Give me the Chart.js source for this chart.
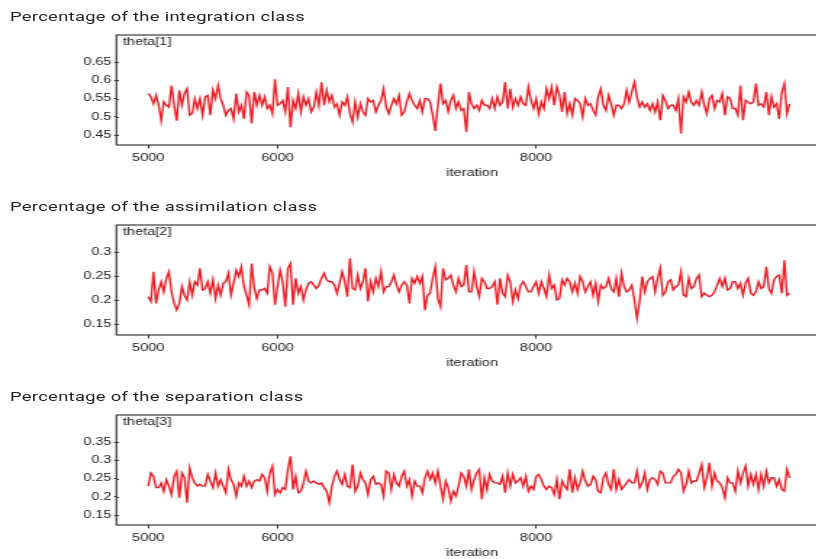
<!DOCTYPE html>
<html>
<head>
<meta charset="utf-8">
<script src="https://cdn.jsdelivr.net/npm/chart.js@4.4.1/dist/chart.umd.min.js"></script>
<style>
  html, body { margin: 0; padding: 0; width: 816px; height: 559px; overflow: hidden; background: #fff; }
  /* the whole sheet is drawn narrow and widened horizontally */
  #page { position: absolute; left: 0; top: 0; width: 563px; height: 559px; transform: scaleX(1.45); transform-origin: 0 0; }
  .ttl { position: absolute; left: 6.9px; font-family: Roboto, sans-serif; font-size: 12.7px; letter-spacing: 0.2px; color: #262626; white-space: nowrap; line-height: 16px; }
  .pnl { position: absolute; left: 0; width: 571px; height: 160px; }
  canvas { display: block; }
</style>
</head>
<body>
<div id="page">
  <div class="ttl" style="top:8.5px">Percentage of the integration class</div>
  <div class="pnl" style="top:25px"><canvas id="c1" width="571" height="160"></canvas></div>
  <div class="ttl" style="top:198.5px">Percentage of the assimilation class</div>
  <div class="pnl" style="top:215px"><canvas id="c2" width="571" height="160"></canvas></div>
  <div class="ttl" style="top:388.5px">Percentage of the separation class</div>
  <div class="pnl" style="top:405px"><canvas id="c3" width="571" height="160"></canvas></div>
</div>
<script>
// MCMC draws kept after burn-in, thinned every 20 iterations
const iterStart = 5000;
const iterStep = 20;

const theta1 = [
  0.564, 0.555, 0.536, 0.559, 0.532, 0.49, 0.541, 0.532, 0.527, 0.586,
  0.532, 0.49, 0.573, 0.532, 0.564, 0.577, 0.505, 0.51, 0.55, 0.523,
  0.55, 0.505, 0.555, 0.559, 0.505, 0.573, 0.55, 0.586, 0.55, 0.532,
  0.505, 0.518, 0.523, 0.495, 0.564, 0.514, 0.532, 0.495, 0.568, 0.559,
  0.482, 0.568, 0.532, 0.559, 0.532, 0.555, 0.523, 0.532, 0.509, 0.603,
  0.532, 0.536, 0.545, 0.514, 0.582, 0.472, 0.545, 0.523, 0.564, 0.514,
  0.555, 0.532, 0.55, 0.514, 0.527, 0.568, 0.532, 0.595, 0.532, 0.573,
  0.541, 0.559, 0.527, 0.536, 0.505, 0.541, 0.532, 0.555, 0.509, 0.486,
  0.541, 0.5, 0.536, 0.514,
  0.505, 0.55, 0.541, 0.545, 0.514, 0.532, 0.545, 0.577, 0.527, 0.509,
  0.532, 0.55, 0.536, 0.559, 0.505, 0.514, 0.541, 0.564, 0.545, 0.532,
  0.523, 0.545, 0.514, 0.55, 0.55, 0.541, 0.505, 0.462, 0.532, 0.591,
  0.536, 0.545, 0.514, 0.545, 0.559, 0.523, 0.541, 0.518, 0.523, 0.459,
  0.568, 0.536, 0.523, 0.532, 0.518, 0.545, 0.532, 0.532, 0.523, 0.55,
  0.523, 0.555, 0.532, 0.541, 0.595, 0.523, 0.577, 0.527, 0.55, 0.532,
  0.555, 0.536, 0.532, 0.582, 0.545, 0.523, 0.55, 0.509, 0.541, 0.523,
  0.577, 0.55, 0.582, 0.532, 0.582, 0.559, 0.514, 0.568, 0.509, 0.536,
  0.505,
  0.55, 0.545, 0.536, 0.5, 0.55, 0.532, 0.536, 0.518, 0.505, 0.555,
  0.577, 0.532, 0.518, 0.559, 0.536, 0.505, 0.532, 0.532, 0.523, 0.536,
  0.573, 0.541, 0.568, 0.595, 0.555, 0.527, 0.541, 0.527, 0.536, 0.518,
  0.536, 0.514, 0.541, 0.491, 0.559, 0.545, 0.523, 0.532, 0.532, 0.518,
  0.55, 0.455, 0.555, 0.541, 0.568, 0.541, 0.532, 0.545, 0.532, 0.568,
  0.532, 0.509, 0.55, 0.559, 0.523, 0.545, 0.541, 0.564, 0.505, 0.555,
  0.55, 0.523, 0.523, 0.505, 0.586, 0.491, 0.545, 0.541, 0.536, 0.541,
  0.591, 0.532, 0.536, 0.527, 0.568, 0.505, 0.555, 0.527, 0.536, 0.495,
  0.568, 0.591, 0.509, 0.536
];

const theta2 = [
  0.207, 0.197, 0.259, 0.193, 0.221, 0.238, 0.217, 0.245, 0.259, 0.217,
  0.193, 0.179, 0.193, 0.228, 0.21, 0.2, 0.238, 0.21, 0.238, 0.231,
  0.266, 0.221, 0.224, 0.238, 0.214, 0.242, 0.203, 0.231, 0.21, 0.235,
  0.238, 0.256, 0.21, 0.235, 0.262, 0.249, 0.269, 0.228, 0.21, 0.19,
  0.276, 0.224, 0.203, 0.221, 0.221, 0.224, 0.214, 0.269, 0.256, 0.19,
  0.228, 0.262, 0.238, 0.186, 0.266, 0.276, 0.19, 0.245, 0.214, 0.228,
  0.2, 0.221, 0.235, 0.238, 0.231, 0.224, 0.231, 0.245, 0.256, 0.242,
  0.238, 0.238, 0.231, 0.214, 0.235, 0.259, 0.238, 0.207, 0.287, 0.224,
  0.221, 0.252, 0.224, 0.238,
  0.266, 0.197, 0.238, 0.217, 0.245, 0.228, 0.259, 0.217, 0.228, 0.228,
  0.238, 0.252, 0.231, 0.217, 0.231, 0.238, 0.231, 0.193, 0.245, 0.235,
  0.249, 0.235, 0.249, 0.179, 0.21, 0.214, 0.245, 0.269, 0.203, 0.186,
  0.266, 0.242, 0.245, 0.252, 0.231, 0.217, 0.245, 0.228, 0.231, 0.273,
  0.217, 0.217, 0.259, 0.228, 0.207, 0.245, 0.238, 0.224, 0.224, 0.228,
  0.238, 0.19, 0.245, 0.214, 0.207, 0.252, 0.238, 0.197, 0.221, 0.203,
  0.231, 0.238, 0.228, 0.217, 0.217, 0.228, 0.238, 0.214, 0.238, 0.224,
  0.207, 0.252, 0.224, 0.231, 0.2, 0.203, 0.242, 0.231, 0.245, 0.238,
  0.217,
  0.235, 0.214, 0.249, 0.238, 0.217, 0.228, 0.238, 0.21, 0.235, 0.197,
  0.231, 0.224, 0.228, 0.245, 0.224, 0.217, 0.245, 0.207, 0.256, 0.228,
  0.217, 0.221, 0.231, 0.2, 0.162, 0.197, 0.249, 0.217, 0.238, 0.245,
  0.249, 0.217, 0.245, 0.266, 0.21, 0.217, 0.238, 0.242, 0.221, 0.228,
  0.231, 0.259, 0.21, 0.207, 0.245, 0.224, 0.228, 0.245, 0.252, 0.207,
  0.214, 0.21, 0.207, 0.21, 0.217, 0.231, 0.245, 0.228, 0.245, 0.221,
  0.224, 0.238, 0.238, 0.224, 0.235, 0.21, 0.235, 0.245, 0.214, 0.21,
  0.217, 0.238, 0.224, 0.228, 0.269, 0.224, 0.214, 0.242, 0.249, 0.252,
  0.214, 0.283, 0.21, 0.214
];

const theta3 = [
  0.229, 0.265, 0.256, 0.225, 0.225, 0.238, 0.215, 0.247, 0.229, 0.206,
  0.256, 0.27, 0.197, 0.265, 0.252, 0.184, 0.279, 0.252, 0.238, 0.229,
  0.234, 0.229, 0.229, 0.261, 0.243, 0.225, 0.265, 0.229, 0.247, 0.229,
  0.211, 0.275, 0.247, 0.234, 0.202, 0.238, 0.229, 0.256, 0.229, 0.243,
  0.225, 0.243, 0.247, 0.243, 0.261, 0.252, 0.215, 0.265, 0.284, 0.206,
  0.22, 0.211, 0.225, 0.22, 0.275, 0.311, 0.22, 0.256, 0.211, 0.215,
  0.238, 0.27, 0.243, 0.238, 0.243, 0.238, 0.234, 0.238, 0.225, 0.215,
  0.184, 0.229, 0.256, 0.27, 0.247, 0.234, 0.261, 0.229, 0.225, 0.288,
  0.215, 0.229, 0.265, 0.247,
  0.238, 0.206, 0.247, 0.256, 0.234, 0.238, 0.234, 0.202, 0.27, 0.265,
  0.22, 0.261, 0.238, 0.229, 0.256, 0.27, 0.229, 0.247, 0.202, 0.243,
  0.229, 0.229, 0.211, 0.252, 0.27, 0.247, 0.265, 0.238, 0.27, 0.229,
  0.193, 0.243, 0.225, 0.188, 0.215, 0.202, 0.229, 0.265, 0.256, 0.229,
  0.275, 0.22, 0.247, 0.265, 0.275, 0.193, 0.252, 0.22, 0.261, 0.243,
  0.238, 0.238, 0.234, 0.256, 0.211, 0.265, 0.229, 0.261, 0.238, 0.243,
  0.252, 0.229, 0.256, 0.215, 0.229, 0.22, 0.256, 0.261, 0.247, 0.229,
  0.22, 0.229, 0.225, 0.206, 0.247, 0.193, 0.243, 0.229, 0.22, 0.275,
  0.211,
  0.252, 0.22, 0.238, 0.27, 0.243, 0.229, 0.234, 0.256, 0.247, 0.215,
  0.211, 0.252, 0.265, 0.234, 0.22, 0.275, 0.22, 0.247, 0.22, 0.229,
  0.238, 0.247, 0.238, 0.238, 0.27, 0.225, 0.238, 0.265, 0.22, 0.247,
  0.252, 0.247, 0.234, 0.27, 0.265, 0.238, 0.238, 0.238, 0.256, 0.261,
  0.275, 0.265, 0.215, 0.234, 0.27, 0.238, 0.243, 0.243, 0.265, 0.288,
  0.225, 0.252, 0.293, 0.229, 0.265, 0.243, 0.238, 0.225, 0.197, 0.252,
  0.238, 0.238, 0.215, 0.27, 0.238, 0.265, 0.284, 0.229, 0.261, 0.234,
  0.261, 0.22, 0.261, 0.229, 0.27, 0.238, 0.252, 0.252, 0.229, 0.247,
  0.22, 0.215, 0.275, 0.252
];

// axis ticks
const xTicks = [5000, 6000, 8000];
const yTicks1 = [0.45, 0.5, 0.55, 0.6, 0.65];
const yTicks2 = [0.15, 0.2, 0.25, 0.3];
const yTicks3 = [0.15, 0.2, 0.25, 0.3, 0.35];

// axis limits
const xLimits = [4754, 10257];
const yLimits1 = [0.4235, 0.7238];
const yLimits2 = [0.1271, 0.3563];
const yLimits3 = [0.1226, 0.424];

const parameterNames = ['theta[1]', 'theta[2]', 'theta[3]'];

const AXIS_FONT = { family: '"Liberation Sans", Arial, sans-serif', size: 10 };
const INK = '#222';
const TRACE = 'rgb(236, 28, 36)';

// frame around the plotting region plus the parameter name in its corner
const framePlugin = {
  id: 'frame',
  afterDraw(chart, args, opts) {
    const { ctx, chartArea: a } = chart;
    ctx.save();
    ctx.strokeStyle = '#3a3a3a';
    ctx.lineWidth = 1.2;
    ctx.strokeRect(a.left, a.top, a.right - a.left + 20, a.bottom - a.top);
    // short inward stubs of the y ticks
    const ys = chart.scales.y;
    ctx.lineWidth = 1;
    ctx.beginPath();
    ys.ticks.forEach(t => {
      const py = Math.round(ys.getPixelForValue(t.value)) + 0.5;
      ctx.moveTo(a.left, py);
      ctx.lineTo(a.left + 1.7, py);
    });
    ctx.stroke();
    ctx.fillStyle = INK;
    ctx.font = '10px "Liberation Sans", Arial, sans-serif';
    ctx.textBaseline = 'middle';
    ctx.textAlign = 'left';
    ctx.fillText(opts.label, a.left + 4.5, a.top + 7.5);
    ctx.restore();
  }
};

function tracePanel(canvasId, values, yTicks, yLimits, name) {
  const points = values.map((v, i) => ({ x: iterStart + i * iterStep, y: v }));
  return new Chart(document.getElementById(canvasId), {
    type: 'line',
    data: {
      datasets: [{
        data: points,
        borderColor: TRACE,
        borderWidth: 1.4,
        pointRadius: 0,
        tension: 0,
        fill: false
      }]
    },
    plugins: [framePlugin],
    options: {
      responsive: false,
      animation: false,
      devicePixelRatio: 1,
      layout: { padding: { top: 10, left: 0, right: 0, bottom: 0 } },
      plugins: {
        legend: { display: false },
        tooltip: { enabled: false },
        frame: { label: name }
      },
      scales: {
        x: {
          type: 'linear',
          min: xLimits[0],
          max: xLimits[1],
          afterBuildTicks: s => { s.ticks = xTicks.map(v => ({ value: v })); },
          afterFit: s => { s.height = 40; },
          border: { display: false },
          grid: { drawOnChartArea: false, tickLength: 3.5, color: '#333', lineWidth: 1 },
          ticks: {
            autoSkip: false, maxRotation: 0, padding: 3.5,
            color: INK, font: AXIS_FONT,
            callback: v => String(v)
          },
          title: {
            display: true, text: 'iteration', color: INK, font: AXIS_FONT,
            padding: { top: 0, bottom: 5.5 }
          }
        },
        y: {
          type: 'linear',
          min: yLimits[0],
          max: yLimits[1],
          afterBuildTicks: s => { s.ticks = yTicks.map(v => ({ value: v })); },
          afterFit: s => { s.width = 80.3; },
          border: { display: false },
          grid: { drawOnChartArea: false, tickLength: 1.6, color: '#333', lineWidth: 1 },
          ticks: {
            autoSkip: false, padding: 1.8,
            color: INK, font: AXIS_FONT,
            callback: v => String(v)
          }
        }
      }
    }
  });
}

tracePanel('c1', theta1, yTicks1, yLimits1, parameterNames[0]);
tracePanel('c2', theta2, yTicks2, yLimits2, parameterNames[1]);
tracePanel('c3', theta3, yTicks3, yLimits3, parameterNames[2]);
</script>
</body>
</html>
